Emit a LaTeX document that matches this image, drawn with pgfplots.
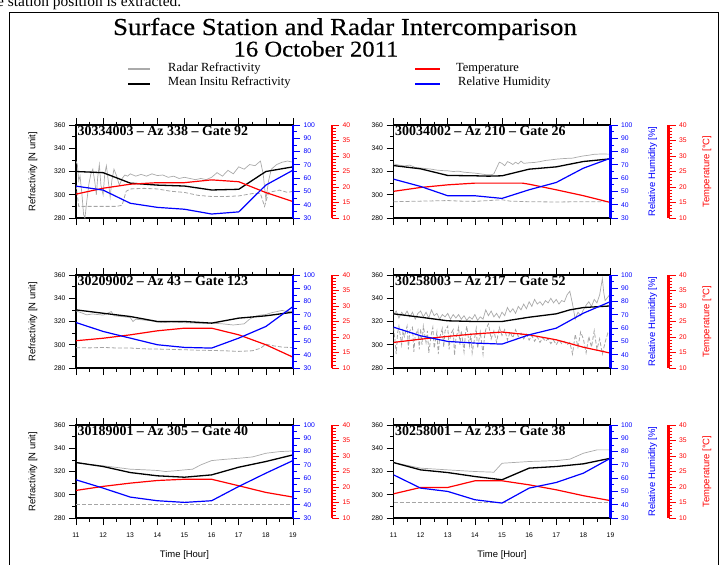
\documentclass[border=0pt]{standalone}
\usepackage{fontspec}
\setmainfont{Liberation Serif}
\setsansfont{Liberation Sans}
\newfontfamily\titlefont[FakeStretch=1.1, FakeBold=0.4]{Liberation Serif}
\usepackage{pgfplots}
\pgfplotsset{compat=1.18}

\definecolor{radargray}{RGB}{170,170,170}
\definecolor{dashgray}{RGB}{165,165,165}
\definecolor{rhblue}{RGB}{0,0,255}
\definecolor{tred}{RGB}{255,0,0}

\newcommand{\tickfont}{\fontsize{6.8}{8}\selectfont\sffamily}
\newcommand{\labfont}{\fontsize{9.5}{11}\selectfont\sffamily}

\pgfplotsset{
  panel/.style={scale only axis, width=217bp, height=93bp, xmin=11, xmax=19,
    /pgf/number format/assume math mode=true,
    major tick length=7bp, minor tick length=3.5bp},
  refax/.style={panel, ymin=280, ymax=360, ytick={280,300,...,360}, minor y tick num=1,
    xtick={11,...,19}, minor x tick num=1, tick align=outside,
    ytick pos=left, xtick pos=both, axis line style={line width=1.6bp},
    tick style={black, line width=0.7bp}, xticklabels={},
    yticklabel style={font=\tickfont}, xticklabel style={font=\tickfont},
    xticklabel shift=4bp, ylabel shift=10bp, xlabel shift=6bp,
    ylabel style={font=\labfont}, xlabel style={font=\labfont}},
  bottomrow/.style={xticklabels={11,12,13,14,15,16,17,18,19}, xlabel={Time [Hour]}},
  tplot/.style={panel, ymin=10, ymax=40, hide axis},
  rhax/.style={panel, ymin=30, ymax=100, axis x line=none, axis y line*=right,
    ytick={30,40,...,100}, minor y tick num=1, tick align=outside,
    y axis line style={-, rhblue, line width=2.2bp},
    ytick style={rhblue, line width=0.8bp}, ylabel shift=9bp,
    yticklabel style={rhblue, font=\tickfont}, ylabel style={rhblue, font=\labfont}},
  tspine/.style={scale only axis, width=1bp, height=93bp, xmin=0, xmax=1, ymin=10, ymax=40,
    /pgf/number format/assume math mode=true,
    major tick length=7bp, minor tick length=3.5bp,
    axis x line=none, axis y line*=right, anchor=south east,
    ytick={10,15,...,40}, minor y tick num=4, tick align=outside,
    y axis line style={-, tred, line width=2.2bp},
    ytick style={tred, line width=0.8bp}, ylabel shift=9bp,
    yticklabel style={tred, font=\tickfont}, ylabel style={tred, font=\labfont}},
  radar/.style={radargray, line width=0.7bp, mark=none},
  radardash/.style={dashgray, dash pattern=on 4bp off 2bp, line width=0.8bp, mark=none},
  insitu/.style={black, line width=1.3bp, mark=none},
  temp/.style={tred, line width=1.2bp, mark=none},
  rh/.style={rhblue, line width=1.2bp, mark=none},
}
\tikzset{plabel/.style={anchor=north west, inner sep=1.5bp,
  font=\fontsize{14}{15}\selectfont\bfseries}}

\begin{document}
\begin{tikzpicture}
\path[use as bounding box] (0,0) rectangle (720bp,-565bp);
\clip (0,0) rectangle (720bp,-565bp);

% text of the page above the figure, cut off
\node[anchor=base west, inner sep=0, font=\fontsize{15.5}{18}\selectfont] at (-3bp,-6bp)
  {e station position is extracted.};
\draw[line width=1bp] (9bp,-600bp) -- (9bp,-12bp) -- (718.5bp,-12bp) -- (718.5bp,-600bp);

% titles
\node[anchor=base, font=\titlefont\fontsize{24.5}{28}\selectfont] at (345bp,-35bp)
  {Surface Station and Radar Intercomparison};
\node[anchor=base, font=\titlefont\fontsize{22.5}{26}\selectfont] at (316bp,-56.5bp) {16 October 2011};

% legend
\begin{scope}[font=\fontsize{12.5}{14}\selectfont]
\draw[radargray, line width=1.2bp] (128bp,-69bp) -- (150bp,-69bp);
\node[anchor=base west, inner sep=0] at (168bp,-71bp) {Radar Refractivity};
\draw[black, line width=1.2bp] (128bp,-84bp) -- (150bp,-84bp);
\node[anchor=base west, inner sep=0] at (168bp,-85bp) {Mean Insitu Refractivity};
\draw[tred, line width=1.2bp] (415bp,-69bp) -- (440bp,-69bp);
\node[anchor=base west, inner sep=0] at (456bp,-71bp) {Temperature};
\draw[rhblue, line width=1.2bp] (415bp,-84bp) -- (440bp,-84bp);
\node[anchor=base west, inner sep=0] at (458bp,-85bp) {Relative Humidity};
\end{scope}

%%%%%%%%%% panel 1: 30334003 (top left)
\begin{axis}[refax, at={(76bp,-218bp)}, ylabel={Refractivity [N unit]}]
\addplot[radar] coordinates {(11.00,329) (11.05,326) (11.10,312) (11.15,316) (11.22,300) (11.28,283) (11.33,280) (11.40,295) (11.48,310) (11.55,318) (11.62,322) (11.70,310) (11.75,300) (11.80,315) (11.86,326) (11.92,308) (12.00,300) (12.06,318) (12.12,325) (12.20,310) (12.26,298) (12.32,312) (12.40,322) (12.50,316) (12.60,308) (12.70,314) (12.80,317) (12.90,316) (13.00,318) (13.20,316) (13.40,317.5) (13.60,316) (13.80,318) (14.00,316.5) (14.20,317) (14.40,315) (14.60,316) (14.80,314) (15.00,315) (15.20,314) (15.40,313) (15.60,314) (15.80,313) (16.00,315) (16.20,319) (16.40,316) (16.60,321) (16.80,318) (17.00,324) (17.20,322) (17.40,326) (17.60,325) (17.80,329) (17.90,318) (18.00,296) (18.10,312) (18.20,322) (18.40,326) (18.60,328) (18.80,329) (19.00,328)};
\addplot[radardash] coordinates {(11.00,308) (11.05,300) (11.10,290) (11.50,290) (12.00,290) (12.50,290) (12.70,291) (12.85,303) (13.00,305) (13.50,305.5) (14.00,305) (14.50,303) (15.00,302) (15.50,299.5) (16.00,298.5) (16.50,298.5) (17.00,299) (17.50,301) (17.80,301) (17.95,290) (18.10,302) (18.50,304) (18.80,302) (19.00,303)};
\addplot[insitu] coordinates {(11,320) (12,319) (13,310) (14,308.3) (15,307.5) (16,304.1) (17,304.7) (18,320) (19,324)};
\node[plabel] at (rel axis cs:0,1) {30334003 \textendash{} Az 338 \textendash{} Gate 92};
\end{axis}
\begin{axis}[tplot, at={(76bp,-218bp)}]
\addplot[temp] coordinates {(11,17.7) (12,19.6) (13,20.9) (14,21.4) (15,21.4) (16,22.3) (17,21.7) (18,18.2) (19,15.3)};
\end{axis}
\begin{axis}[rhax, at={(76bp,-218bp)}]
\addplot[rh] coordinates {(11,54) (12,51) (13,41.1) (14,38) (15,36.6) (16,33) (17,34.6) (18,54.8) (19,66)};
\end{axis}
\begin{axis}[tspine, at={(332bp,-218bp)}]
\end{axis}

%%%%%%%%%% panel 2: 30034002 (top right)
\begin{axis}[refax, at={(393.5bp,-218bp)}]
\addplot[radar] coordinates {(11.0,326.5) (11.2,325.5) (11.4,324.8) (11.6,325.5) (11.8,323.5) (12.0,323) (12.2,322.5) (12.4,322) (12.6,321.2) (12.8,320.8) (13.0,320.6) (13.2,320) (13.4,320.3) (13.6,319.4) (13.8,319) (14.0,318.6) (14.2,318) (14.4,317.3) (14.6,317.2) (14.7,318) (14.8,323) (14.9,328) (15.0,327) (15.1,325) (15.2,328.5) (15.3,327.5) (15.4,326) (15.5,328) (15.6,326.5) (15.7,329) (15.8,327) (16.0,327.5) (16.2,327.8) (16.4,328.5) (16.6,329.5) (16.8,330) (17.0,330.6) (17.2,331) (17.4,331.3) (17.6,331.5) (17.8,332.5) (18.0,333.4) (18.2,334) (18.4,334.8) (18.6,335) (18.8,335) (19.0,334.9)};
\addplot[radardash] coordinates {(11,294) (12,294.5) (13,295) (13.5,294.5) (14,294.3) (14.5,295) (15,295.7) (15.3,294.5) (16,294) (17,293.8) (18,294) (19,294)};
\addplot[insitu] coordinates {(11,325.1) (12,322.3) (13,316.6) (14,316.3) (14.5,316) (15,316.3) (16,322) (17,324) (18,328.6) (19,330.9)};
\node[plabel] at (rel axis cs:0,1) {30034002 \textendash{} Az 210 \textendash{} Gate 26};
\end{axis}
\begin{axis}[tplot, at={(393.5bp,-218bp)}]
\addplot[temp] coordinates {(11,18.6) (12,19.85) (13,20.7) (14,21.25) (15,21.25) (15.75,21.25) (16,20.9) (17,19.1) (18,17.2) (19,15.0)};
\end{axis}
\begin{axis}[rhax, at={(393.5bp,-218bp)}, ylabel={Relative Humidity [\%]}]
\addplot[rh] coordinates {(11,59.25) (12,53.75) (13,46.75) (14,46.75) (15,44.75) (16,51.25) (17,56.75) (18,67.5) (19,75)};
\end{axis}
\begin{axis}[tspine, at={(668.5bp,-218bp)}, ylabel={Temperature [°C]}]
\end{axis}

%%%%%%%%%% panel 3: 30209002 (middle left)
\begin{axis}[refax, at={(76bp,-368bp)}, ylabel={Refractivity [N unit]}]
\addplot[radar] coordinates {(11.0,329.1) (11.2,327.5) (11.4,325.7) (11.6,326.5) (11.8,326) (12.0,325.5) (12.2,327.5) (12.3,328.5) (12.4,325) (12.6,324.5) (12.8,324) (13.0,323.5) (13.1,320) (13.2,322) (13.4,321.5) (13.6,321) (13.8,320.5) (14.0,319.5) (14.2,319) (14.5,319.5) (15.0,319) (15.5,318.5) (16.0,318.6) (16.4,318) (16.8,317) (17.0,317.5) (17.2,318) (17.4,322) (17.6,324.5) (17.8,325.5) (18.0,326) (18.2,327.5) (18.4,328.5) (18.6,329.5) (18.8,328.5) (19.0,329)};
\addplot[radardash] coordinates {(11,297.5) (11.5,297.3) (12,297.7) (12.5,297.2) (13,297.2) (13.5,296.5) (14,296.3) (14.5,296) (15,295.7) (15.5,295.3) (16,295.1) (16.5,294.8) (17,294.3) (17.5,294.8) (17.8,297) (18,300.5) (18.3,299) (18.6,298) (19,297.5)};
\addplot[insitu] coordinates {(11,330) (12,327.1) (13,324.3) (14,320) (15,320) (16,318.6) (17,322.9) (18,324.9) (19,328)};
\node[plabel] at (rel axis cs:0,1) {30209002 \textendash{} Az 43 \textendash{} Gate 123};
\end{axis}
\begin{axis}[tplot, at={(76bp,-368bp)}]
\addplot[temp] coordinates {(11,18.8) (12,19.6) (13,20.7) (14,22) (15,22.85) (16,22.85) (17,20.7) (18,17.5) (19,13.5)};
\end{axis}
\begin{axis}[rhax, at={(76bp,-368bp)}]
\addplot[rh] coordinates {(11,64.25) (12,57.5) (13,52.5) (14,47.5) (15,45.5) (16,45) (17,52.5) (18,61.25) (19,76.25)};
\end{axis}
\begin{axis}[tspine, at={(332bp,-368bp)}]
\end{axis}

%%%%%%%%%% panel 4: 30258003 (middle right)
\begin{axis}[refax, at={(393.5bp,-368bp)}]
\addplot[radar] coordinates {(11.0,326) (11.1,329) (11.2,323) (11.3,328) (11.4,325) (11.5,329) (11.6,324) (11.7,328) (11.8,322) (11.9,327) (12.0,329) (12.1,324) (12.2,328) (12.3,323) (12.4,330) (12.5,325) (12.6,327) (12.7,322) (12.8,326) (12.9,324) (13.0,327) (13.1,322) (13.2,326) (13.3,323) (13.4,326) (13.5,322) (13.6,325) (13.7,321) (13.8,324) (13.9,322) (14.0,326) (14.1,321) (14.2,324) (14.3,322) (14.4,330) (14.5,325) (14.6,329) (14.7,324) (14.8,327) (14.9,323) (15.0,328) (15.1,325) (15.2,332) (15.3,328) (15.4,331) (15.5,327) (15.6,333) (15.7,330) (15.8,335) (15.9,331) (16.0,337) (16.1,333) (16.2,339) (16.3,335) (16.4,337) (16.5,334) (16.6,338) (16.7,336) (16.8,340) (16.9,336) (17.0,339) (17.1,335) (17.2,338) (17.3,337) (17.4,343) (17.5,346) (17.6,335) (17.7,322) (17.8,328) (17.9,325) (18.0,330) (18.1,334) (18.2,337) (18.3,333) (18.4,339) (18.5,336) (18.6,343) (18.7,357) (18.75,345) (18.8,338) (18.9,341) (19.0,344)};
\addplot[radardash] coordinates {(11.0,315) (11.05,305) (11.1,292) (11.15,310) (11.2,316) (11.3,300) (11.35,312) (11.4,307) (11.5,316) (11.55,296) (11.6,312) (11.7,315) (11.75,294) (11.8,308) (11.9,313) (11.95,296) (12.0,314) (12.05,300) (12.1,316) (12.2,302) (12.25,312) (12.3,293) (12.4,310) (12.45,315) (12.5,297) (12.6,311) (12.65,292) (12.7,306) (12.8,314) (12.85,298) (12.9,312) (13.0,316) (13.05,296) (13.1,309) (13.2,313) (13.25,291) (13.3,305) (13.4,315) (13.45,300) (13.5,312) (13.6,294) (13.65,309) (13.7,316) (13.8,299) (13.85,310) (13.9,293) (14.0,307) (14.05,314) (14.1,297) (14.2,311) (14.3,292) (14.35,306) (14.4,313) (14.5,318) (14.6,305) (14.7,312) (14.8,302) (14.9,315) (15.0,308) (15.1,313) (15.2,304) (15.3,311) (15.4,306) (15.5,313) (15.6,307) (15.7,310) (15.8,305) (15.9,309) (16.0,304) (16.1,308) (16.2,303) (16.3,307) (16.4,302) (16.5,306) (16.6,303) (16.7,305) (16.8,301) (16.9,304) (17.0,300) (17.1,304) (17.2,301) (17.3,303) (17.4,300) (17.5,302) (17.6,292) (17.7,309) (17.8,298) (17.9,311) (18.0,305) (18.1,293) (18.2,307) (18.3,298) (18.4,312) (18.5,296) (18.6,305) (18.7,292) (18.8,302) (18.9,310) (19.0,307)};
\addplot[insitu] coordinates {(11,326.6) (12,323.7) (13,320.6) (14,320) (15,320) (16,323.7) (17,326.6) (17.5,330) (18,332) (19,333.4)};
\node[plabel] at (rel axis cs:0,1) {30258003 \textendash{} Az 217 \textendash{} Gate 52};
\end{axis}
\begin{axis}[tplot, at={(393.5bp,-368bp)}]
\addplot[temp] coordinates {(11,18.25) (12,19.3) (13,20.2) (14,21) (15,21.6) (16,20.7) (17,19.1) (18,16.7) (19,14.8)};
\end{axis}
\begin{axis}[rhax, at={(393.5bp,-368bp)}, ylabel={Relative Humidity [\%]}]
\addplot[rh] coordinates {(11,60.75) (12,54.25) (13,50) (14,48.75) (15,48) (16,55) (17,60) (18,71.25) (19,80)};
\end{axis}
\begin{axis}[tspine, at={(668.5bp,-368bp)}, ylabel={Temperature [°C]}]
\end{axis}

%%%%%%%%%% panel 5: 30189001 (bottom left)
\begin{axis}[refax, bottomrow, at={(76bp,-518bp)}, ylabel={Refractivity [N unit]}]
\addplot[radar] coordinates {(11,328) (11.5,326) (12,324.9) (12.5,323.5) (13,322) (13.5,321.5) (14,320.9) (14.3,320) (14.6,320.5) (15,321.4) (15.3,322) (15.6,325.7) (16,329.4) (16.5,330.5) (17,331.4) (17.5,332.5) (18,335.7) (18.5,337.1) (19,337.7)};
\addplot[radardash] coordinates {(11,292) (13,292) (15,292) (17,292) (19,292)};
\addplot[insitu] coordinates {(11,327.7) (12,324.3) (13,319.1) (14,316.3) (15,315.1) (16,317.1) (17,323.7) (18,328.6) (19,334.3)};
\node[plabel] at (rel axis cs:0,1) {30189001 \textendash{} Az 305 \textendash{} Gate 40};
\end{axis}
\begin{axis}[tplot, at={(76bp,-518bp)}]
\addplot[temp] coordinates {(11,18.9) (12,20.2) (13,21.25) (14,22.1) (15,22.5) (16,22.5) (17,20.4) (18,18.25) (19,16.75)};
\end{axis}
\begin{axis}[rhax, at={(76bp,-518bp)}]
\addplot[rh] coordinates {(11,58.75) (12,52.5) (13,45.75) (14,43) (15,41.75) (16,43) (17,53.75) (18,63.75) (19,73.25)};
\end{axis}
\begin{axis}[tspine, at={(332bp,-518bp)}]
\end{axis}

%%%%%%%%%% panel 6: 30258001 (bottom right)
\begin{axis}[refax, bottomrow, at={(393.5bp,-518bp)}]
\addplot[radar] coordinates {(11,327.7) (12,322.9) (13,321.4) (14,320) (14.7,319.4) (15,327.1) (16,328.6) (17,329.4) (17.5,330.6) (18,335.7) (18.5,338.6) (19,338.6)};
\addplot[radardash] coordinates {(11,293.4) (13,293.4) (15,293.4) (17,293.4) (19,293.4)};
\addplot[insitu] coordinates {(11,327.7) (12,321.4) (13,319.1) (14,315.7) (15,312.9) (16,322.9) (17,324.3) (18,326.6) (19,331.4)};
\node[plabel] at (rel axis cs:0,1) {30258001 \textendash{} Az 233 \textendash{} Gate 38};
\end{axis}
\begin{axis}[tplot, at={(393.5bp,-518bp)}]
\addplot[temp] coordinates {(11,17.8) (12,19.85) (13,19.85) (14,22) (15,22) (16,20.7) (17,19.1) (18,17.2) (19,15.6)};
\end{axis}
\begin{axis}[rhax, at={(393.5bp,-518bp)}, ylabel={Relative Humidity [\%]}]
\addplot[rh] coordinates {(11,62.5) (12,52.5) (13,50) (14,43.75) (15,41.25) (16,52.5) (17,56.75) (18,63.75) (19,75)};
\end{axis}
\begin{axis}[tspine, at={(668.5bp,-518bp)}, ylabel={Temperature [°C]}]
\end{axis}

\end{tikzpicture}
\end{document}
